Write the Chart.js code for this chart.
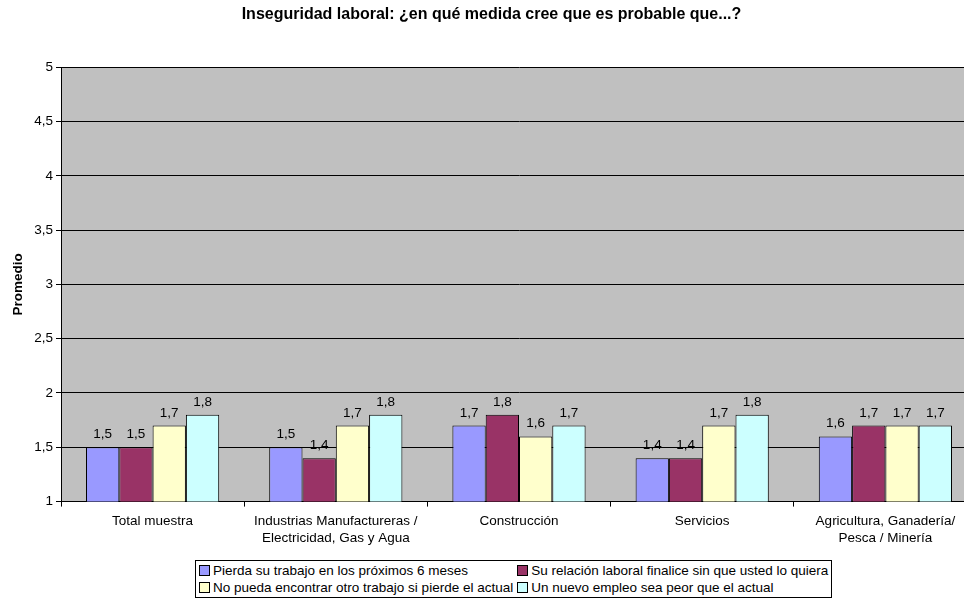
<!DOCTYPE html>
<html>
<head>
<meta charset="utf-8">
<script src="https://cdn.jsdelivr.net/npm/chart.js@4"></script>
<style>
  body { margin: 0; overflow: hidden; background: #fff; font-family: "Liberation Sans", Arial, sans-serif; }
  #wrap { position: relative; width: 980px; height: 600px; }
  #legend {
    position: absolute; left: 195px; top: 560px;
    border: 1px solid #000; background: #fff;
    display: grid; grid-template-columns: auto auto; column-gap: 4px;
    padding: 1px 3px 1px 3px; font-size: 13.5px; line-height: 17px; white-space: nowrap;
  }
  #legend span.box {
    display: inline-block; width: 9px; height: 9px; border: 1px solid #000;
    margin-right: 3px; vertical-align: -1px;
  }
</style>
</head>
<body>
<div id="wrap">
  <canvas id="chart"></canvas>
  <div id="legend"></div>
</div>
<script>
const categories = [
  'Total muestra',
  ['Industrias Manufactureras /', 'Electricidad, Gas y Agua'],
  'Construcción',
  'Servicios',
  ['Agricultura, Ganadería/', 'Pesca / Minería']
];
const seriesNames = [
  'Pierda su trabajo en los próximos 6 meses',
  'Su relación laboral finalice sin que usted lo quiera',
  'No pueda encontrar otro trabajo si pierde el actual',
  'Un nuevo empleo sea peor que el actual'
];
const pierdaTrabajo = [1.5, 1.5, 1.7, 1.4, 1.6];
const relacionFinalice = [1.5, 1.4, 1.8, 1.4, 1.7];
const noEncontrar = [1.7, 1.7, 1.6, 1.7, 1.7];
const empleoPeor = [1.8, 1.8, 1.7, 1.8, 1.7];
const seriesColors = ['#9999FF', '#993366', '#FFFFCC', '#CCFFFF'];

const fmt = v => String(v).replace('.', ',');
const FONT = '"Liberation Sans", Arial, sans-serif';

const plotBackground = {
  id: 'plotBackground',
  beforeDraw(chart) {
    const { ctx, chartArea: a } = chart;
    ctx.save();
    ctx.fillStyle = '#C0C0C0';
    ctx.fillRect(a.left, a.top, a.right - a.left, a.bottom - a.top);
    ctx.restore();
  }
};

const valueLabels = {
  id: 'valueLabels',
  afterDatasetsDraw(chart) {
    const ctx = chart.ctx;
    ctx.save();
    ctx.font = '13.5px ' + FONT;
    ctx.fillStyle = '#000';
    ctx.textAlign = 'center';
    ctx.textBaseline = 'bottom';
    chart.data.datasets.forEach((ds, i) => {
      chart.getDatasetMeta(i).data.forEach((bar, j) => {
        ctx.fillText(fmt(ds.data[j]), bar.x, bar.y - 6);
      });
    });
    ctx.restore();
  }
};

const chartCanvas = document.getElementById('chart');
const chart = new Chart(chartCanvas, {
  type: 'bar',
  data: {
    labels: categories,
    datasets: [pierdaTrabajo, relacionFinalice, noEncontrar, empleoPeor].map((data, i) => ({
      label: seriesNames[i],
      data,
      backgroundColor: seriesColors[i],
      borderColor: '#000',
      borderWidth: 1,
      categoryPercentage: 0.727,
      barPercentage: 1.0
    }))
  },
  options: {
    responsive: true,
    maintainAspectRatio: false,
    animation: false,
    layout: { padding: { top: 0, bottom: 47, left: 6, right: 3 } },
    plugins: {
      legend: { display: false },
      tooltip: { enabled: false },
      title: {
        display: true,
        text: 'Inseguridad laboral: ¿en qué medida cree que es probable que...?',
        color: '#000',
        font: { family: FONT, size: 16, weight: 'bold' },
        padding: { top: 5, bottom: 43 }
      }
    },
    scales: {
      x: {
        grid: { offset: true, drawOnChartArea: false, color: '#000', tickLength: 5 },
        border: { color: '#000' },
        ticks: { color: '#000', font: { family: FONT, size: 13.5, lineHeight: 1.2 }, maxRotation: 0, autoSkip: false, padding: 7 }
      },
      y: {
        min: 1,
        max: 5,
        afterFit: scale => { scale.width = 55; },
        grid: { color: '#000', tickLength: 5 },
        border: { color: '#000' },
        ticks: { stepSize: 0.5, color: '#000', font: { family: FONT, size: 13.5 }, callback: v => fmt(v), padding: 3 },
        title: { display: true, text: 'Promedio', color: '#000', font: { family: FONT, size: 13.5, weight: 'bold' }, padding: 4 }
      }
    }
  },
  plugins: [plotBackground, valueLabels]
});

const legendEl = document.getElementById('legend');
chart.data.datasets.forEach(ds => {
  const item = document.createElement('div');
  const box = document.createElement('span');
  box.className = 'box';
  box.style.background = ds.backgroundColor;
  item.appendChild(box);
  item.appendChild(document.createTextNode(ds.label));
  legendEl.appendChild(item);
});
</script>
</body>
</html>
